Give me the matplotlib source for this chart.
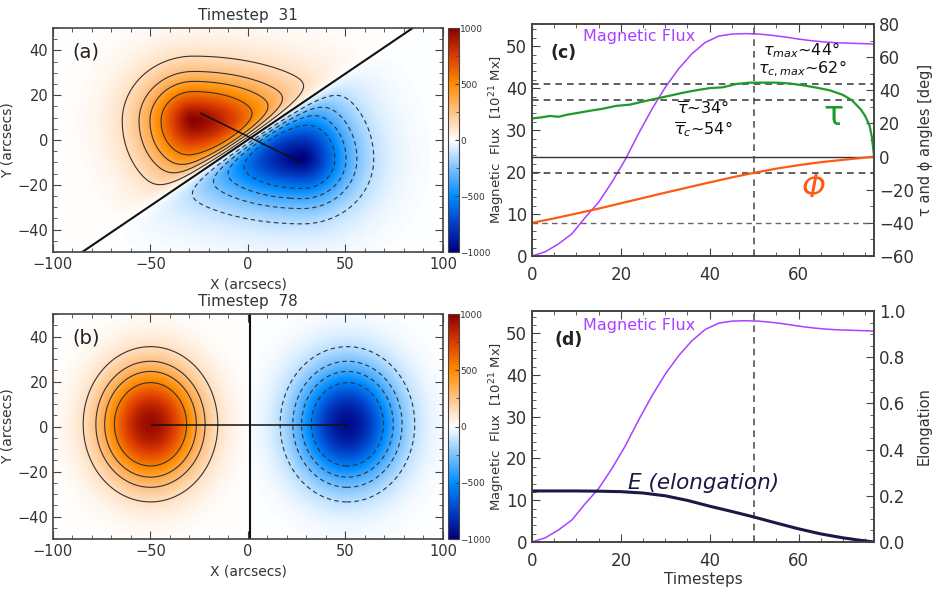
import numpy as np
import matplotlib
matplotlib.use("Agg")
import matplotlib.pyplot as plt
from matplotlib.colors import LinearSegmentedColormap
from matplotlib.ticker import MultipleLocator, FormatStrFormatter

plt.rcParams["font.family"] = ["DejaVu Sans"]
plt.rcParams["mathtext.fontset"] = "dejavusans"

# ---------------- map data (model parameters) ----------------
contour_levels = [136, 264, 386, 543]    # |B| contour levels, 10^21 Mx

# timestep 31: sheared bipole, PIL tilted
t31_amp = 1000.0
t31_pil_angle = 30.6                     # deg
t31_pil_point = (0.0, 0.0)
t31_pos_peak = (-28.0, 8.5)
t31_neg_peak = (28.0, -8.5)
t31_pos_sigma = (14.5, 29.0, 14.0, 11.5)   # left, right, down, up
t31_neg_sigma = (29.0, 14.5, 11.5, 14.0)
t31_shape = 1.5
t31_pil_x = [-85.0, 84.5]
t31_pil_y = [-50.0, 50.0]
t31_link_x = [-24.1, 26.3]
t31_link_y = [11.9, -9.7]

# timestep 78: relaxed, round bipole, vertical PIL
t78_amp = 950.0
t78_pil_angle = 90.0
t78_pil_point = (1.0, 0.0)
t78_pos_peak = (-50.0, 1.0)
t78_neg_peak = (51.0, 1.0)
t78_pos_sigma = (17.5, 17.5, 17.5, 17.5)
t78_neg_sigma = (17.5, 17.5, 17.5, 17.5)
t78_shape = 2.0
t78_pil_x = [1.0, 1.0]
t78_pil_y = [-50.0, 50.0]
t78_link_x = [-49.0, 50.6]
t78_link_y = [0.8, 0.8]

# ---------------- time series ----------------
t_flux = [0, 3, 6, 9, 12, 15, 18, 21, 24, 27, 30, 33, 36, 39, 42, 45, 48, 51, 54,
          57, 60, 63, 66, 69, 72, 75, 77]
flux = [0.0, 1.0, 2.9, 5.3, 9.2, 12.8, 17.6, 23.0, 29.2, 35.0, 40.2, 44.6, 48.2,
        50.9, 52.4, 52.9, 53.0, 52.9, 52.6, 52.2, 51.7, 51.3, 51.0, 50.8, 50.7, 50.6, 50.5]

t_tau = [0, 2, 4, 6, 8, 10, 13, 16, 19, 22, 25, 28, 31, 34, 37, 40, 43, 46, 49, 52,
         55, 58, 61, 64, 67, 70, 72, 74, 75, 76, 76.5, 77]
tau = [23.0, 23.6, 24.5, 24.0, 25.3, 26.2, 27.6, 28.9, 30.6, 31.3, 33.2, 35.0, 36.7,
       38.5, 40.0, 41.3, 41.8, 43.8, 44.6, 44.6, 44.6, 44.1, 43.0, 41.6, 40.0, 37.2,
       34.0, 28.5, 24.5, 18.5, 12.0, 0.5]

t_phi = [0, 5, 10, 15, 20, 25, 30, 35, 40, 45, 50, 55, 60, 65, 70, 74, 77]
phi = [-40.0, -37.3, -34.4, -31.4, -28.2, -25.0, -21.8, -18.7, -15.6, -12.6, -9.8,
       -7.3, -5.2, -3.4, -2.0, -0.9, 0.0]

t_elong = [0, 5, 10, 15, 20, 25, 30, 35, 40, 45, 50, 55, 60, 65, 70, 74, 77]
elong = [0.221, 0.221, 0.221, 0.220, 0.218, 0.212, 0.200, 0.180, 0.155, 0.132, 0.108,
         0.082, 0.057, 0.035, 0.018, 0.007, 0.0]

t_peak = 50
tau_max = 44
tau_mean = 34
phi_at_peak = -10
phi_start = -40

FLUX_C = "#aa40ff"
TAU_C = "#1f9a2a"
PHI_C = "#ff5a14"
E_C = "#1a1845"
AX_C = "#444444"
TXT_C = "#333333"
DASH = (0, (4, 3))

cmap = LinearSegmentedColormap.from_list("idl_rb", [
    (0.000, "#00007f"), (0.125, "#0040c8"), (0.25, "#008cff"), (0.375, "#7cc3ff"),
    (0.5, "#ffffff"),
    (0.625, "#ffc387"), (0.75, "#ff8c00"), (0.875, "#dc3c00"), (1.0, "#8b0000")])


def bipole(amp, pil_angle, pil_point, pos_peak, neg_peak, pos_sigma, neg_sigma, shape,
           pil_w=5.0):
    """Two skewed blobs of opposite sign, each cut at a straight PIL."""
    x = np.linspace(-100, 100, 401)
    y = np.linspace(-50, 50, 201)
    X, Y = np.meshgrid(x, y)
    a = np.radians(pil_angle)
    # signed distance from the PIL, positive on the positive-polarity side
    V = -(X - pil_point[0]) * np.sin(a) + (Y - pil_point[1]) * np.cos(a)
    field = np.zeros_like(X)
    for peak, sig, sign in [(pos_peak, pos_sigma, 1), (neg_peak, neg_sigma, -1)]:
        dx, dy = X - peak[0], Y - peak[1]
        sx = np.where(dx < 0, sig[0], sig[1])
        sy = np.where(dy < 0, sig[2], sig[3])
        r = np.sqrt((dx / sx) ** 2 + (dy / sy) ** 2)
        g = np.exp(-0.5 * r ** shape)
        cut = np.clip(np.tanh(sign * V / pil_w), 0, None)
        field += sign * amp * g * cut
    return x, y, field


def style_axis(ax):
    for s in ax.spines.values():
        s.set_color(AX_C)
        s.set_linewidth(1.2)
    ax.tick_params(which="both", direction="in", colors=AX_C, labelcolor=TXT_C)
    ax.tick_params(which="major", length=6)
    ax.tick_params(which="minor", length=3)


def draw_map(ax, cax, title, label, data, pil, link):
    x, y, field = data
    im = ax.imshow(field, extent=(-100, 100, -50, 50), origin="lower", cmap=cmap,
                   vmin=-1000, vmax=1000, aspect="auto", interpolation="bilinear")
    ax.contour(x, y, field, levels=contour_levels, colors="#333333", linewidths=0.8,
               linestyles="solid")
    ax.contour(x, y, field, levels=[-l for l in contour_levels[::-1]], colors="#333333",
               linewidths=0.8, linestyles=[DASH])
    ax.plot(pil[0], pil[1], color="#111111", lw=1.5)
    ax.plot(link[0], link[1], color="#111111", lw=1.1)
    ax.set_xlim(-100, 100)
    ax.set_ylim(-50, 50)
    ax.xaxis.set_major_locator(MultipleLocator(50))
    ax.xaxis.set_minor_locator(MultipleLocator(10))
    ax.yaxis.set_major_locator(MultipleLocator(20))
    ax.yaxis.set_minor_locator(MultipleLocator(5))
    ax.tick_params(which="both", top=True, right=True, labelsize=10.5)
    style_axis(ax)
    ax.set_title(title, fontsize=11, color=TXT_C, pad=6)
    ax.set_xlabel("X (arcsecs)", fontsize=10, color=TXT_C, labelpad=4)
    ax.set_ylabel("Y (arcsecs)", fontsize=10, color=TXT_C, labelpad=2)
    ax.text(0.049, 0.895, label, transform=ax.transAxes, fontsize=14, color="#222222",
            va="center", ha="left")
    cb = plt.colorbar(im, cax=cax)
    cb.set_ticks([-1000, -500, 0, 500, 1000])
    cb.ax.yaxis.set_minor_locator(MultipleLocator(250))
    cb.ax.tick_params(which="both", direction="in", labelsize=6.5, colors=AX_C,
                      labelcolor=TXT_C, pad=1)
    cb.ax.tick_params(which="major", length=3)
    cb.ax.tick_params(which="minor", length=2)
    cb.outline.set_edgecolor(AX_C)
    cb.set_label("Magnetic  Flux  [10$^{21}$ Mx]", fontsize=9.5, color=TXT_C)
    cb.ax.yaxis.set_label_coords(3.55, 0.5)


fig = plt.figure(figsize=(9.33, 5.92), dpi=100)

ax_a = fig.add_axes([0.0568, 0.5743, 0.418, 0.3784])
cax_a = fig.add_axes([0.4802, 0.5743, 0.0118, 0.3784])
ax_b = fig.add_axes([0.0568, 0.0895, 0.418, 0.380])
cax_b = fig.add_axes([0.4802, 0.0895, 0.0118, 0.380])
ax_c = fig.add_axes([0.5702, 0.5676, 0.3666, 0.3919])
ax_d = fig.add_axes([0.5702, 0.0845, 0.3666, 0.390])

draw_map(ax_a, cax_a, "Timestep  31", "(a)",
         bipole(t31_amp, t31_pil_angle, t31_pil_point, t31_pos_peak, t31_neg_peak,
                t31_pos_sigma, t31_neg_sigma, t31_shape),
         (t31_pil_x, t31_pil_y), (t31_link_x, t31_link_y))
draw_map(ax_b, cax_b, "Timestep  78", "(b)",
         bipole(t78_amp, t78_pil_angle, t78_pil_point, t78_pos_peak, t78_neg_peak,
                t78_pos_sigma, t78_neg_sigma, t78_shape, pil_w=2.0),
         (t78_pil_x, t78_pil_y), (t78_link_x, t78_link_y))

# ---------------- panels (c) and (d): flux on the left axis ----------------
flux_top = 55.3
for ax in (ax_c, ax_d):
    ax.plot(t_flux, flux, color=FLUX_C, lw=1.1)
    ax.axvline(t_peak, color="#555555", lw=1.2, ls=DASH)
    ax.set_xlim(0, 77)
    ax.set_ylim(0, flux_top)
    ax.xaxis.set_major_locator(MultipleLocator(20))
    ax.xaxis.set_minor_locator(MultipleLocator(5))
    ax.yaxis.set_major_locator(MultipleLocator(10))
    ax.yaxis.set_minor_locator(MultipleLocator(2))
    ax.tick_params(which="both", top=True, labelsize=12)
    style_axis(ax)
    ax.tick_params(axis="x", pad=7)

ax_c2 = ax_c.twinx()
ax_c2.set_ylim(-60, 80)
ax_c2.yaxis.set_major_locator(MultipleLocator(20))
ax_c2.yaxis.set_minor_locator(MultipleLocator(10))
for yv in (tau_max, tau_mean, phi_at_peak):
    ax_c2.axhline(yv, color="#444444", lw=1.2, ls=DASH)
ax_c2.axhline(phi_start, color="#666666", lw=1.0, ls=DASH)
ax_c2.axhline(0, color="#333333", lw=1.0)
ax_c2.plot(t_tau, tau, color=TAU_C, lw=1.6)
ax_c2.plot(t_phi, phi, color=PHI_C, lw=1.6)
ax_c2.tick_params(which="both", labelsize=12)
style_axis(ax_c2)
ax_c2.set_ylabel("τ and ϕ angles [deg]", fontsize=10.5, color=TXT_C, labelpad=3)

ann = dict(transform=ax_c.transAxes, fontsize=11.5, ha="center", va="center",
           color="#111111")
ax_c.text(0.149, 0.944, "Magnetic Flux", transform=ax_c.transAxes, color=FLUX_C,
          fontsize=11.5, va="center")
ax_c.text(0.053, 0.875, "(c)", transform=ax_c.transAxes, color="#222222",
          fontsize=12.5, va="center", fontweight="bold")
ax_c.text(0.789, 0.886, r"$\tau_{max}$~44°", **ann)
ax_c.text(0.789, 0.805, r"$\tau_{c,max}$~62°", **ann)
ax_c.text(0.5, 0.634, r"$\overline{\tau}$~34°", **ann)
ax_c.text(0.5, 0.548, r"$\overline{\tau}_c$~54°", **ann)
ax_c.text(0.88, 0.605, "τ", transform=ax_c.transAxes, fontsize=24, color=TAU_C,
          ha="center", va="center")
ax_c.text(0.822, 0.293, "Φ", transform=ax_c.transAxes, fontsize=22, color=PHI_C,
          ha="center", va="center", style="italic")

# ---------------- panel (d): elongation on the right axis ----------------
ax_d2 = ax_d.twinx()
ax_d2.set_ylim(0, 1.0)
ax_d2.plot(t_elong, elong, color=E_C, lw=2.2)
ax_d2.yaxis.set_major_locator(MultipleLocator(0.2))
ax_d2.yaxis.set_minor_locator(MultipleLocator(0.05))
ax_d2.yaxis.set_major_formatter(FormatStrFormatter("%.1f"))
ax_d2.tick_params(which="both", labelsize=12)
style_axis(ax_d2)
ax_d2.set_ylabel("Elongation", fontsize=10.5, color=TXT_C, labelpad=8)
ax_d.set_xlabel("Timesteps", fontsize=11, color=TXT_C, labelpad=2)

ax_d.text(0.149, 0.939, "Magnetic Flux", transform=ax_d.transAxes, color=FLUX_C,
          fontsize=11.5, va="center")
ax_d.text(0.067, 0.874, "(d)", transform=ax_d.transAxes, color="#222222",
          fontsize=12.5, va="center", fontweight="bold")
ax_d.text(0.281, 0.255, "E (elongation)", transform=ax_d.transAxes, color=E_C,
          fontsize=15.5, va="center", style="italic")

fig.savefig("out.png", dpi=100)
